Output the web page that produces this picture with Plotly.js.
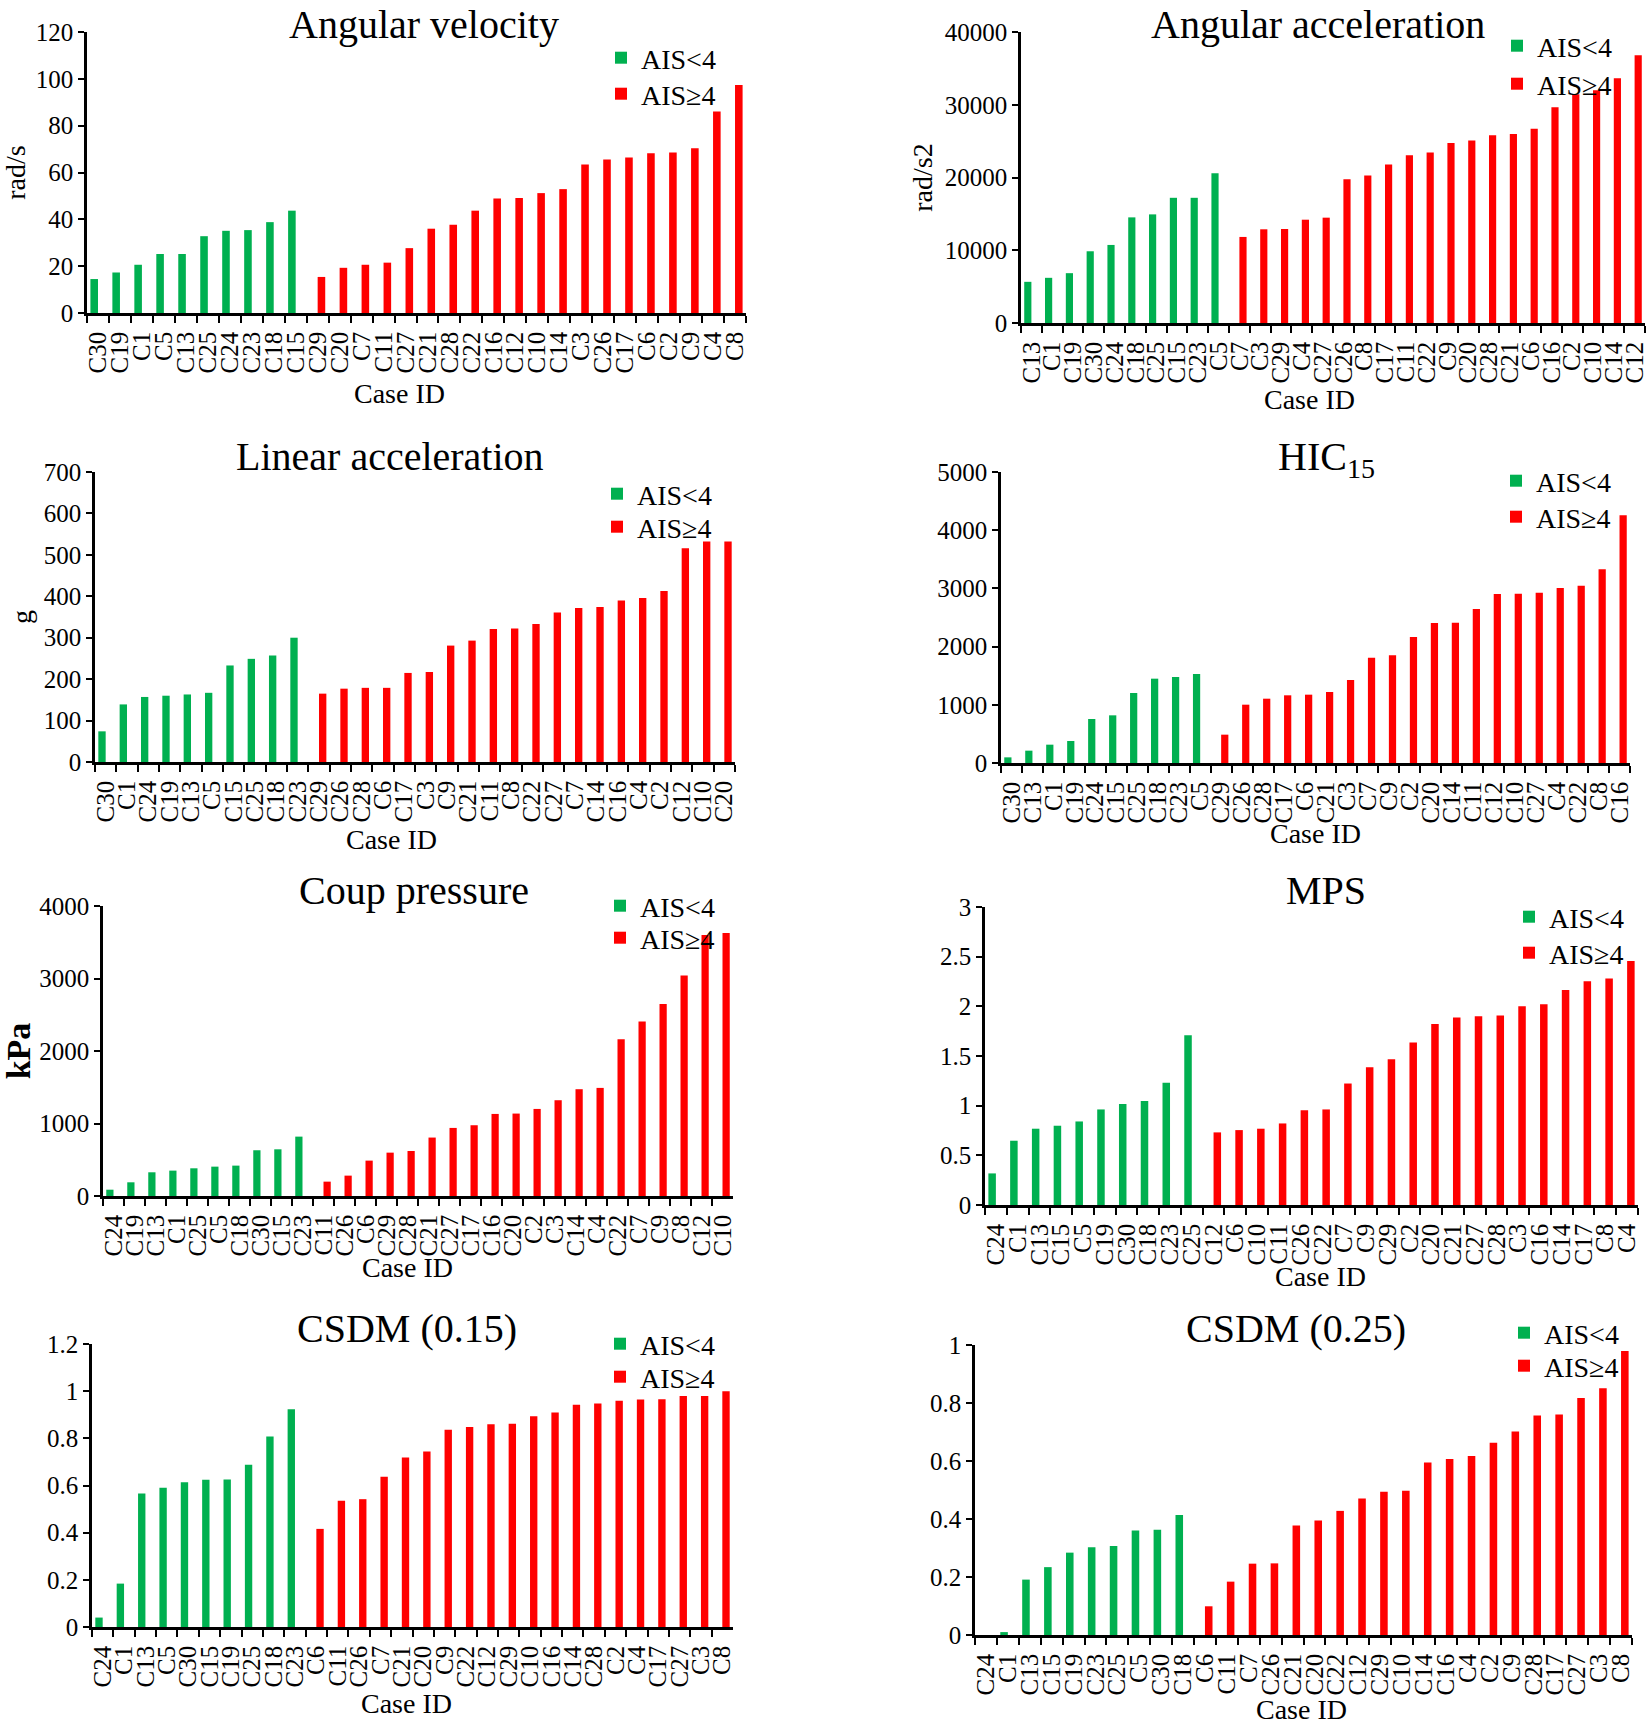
<!DOCTYPE html>
<html>
<head>
<meta charset="utf-8">
<script src="https://cdn.plot.ly/plotly-3.0.1.min.js"></script>
<style>
html,body{margin:0;padding:0;background:#fff;}
#chart{width:1650px;height:1729px;}
</style>
</head>
<body>
<div id="chart"></div>
<script>
// ---------- DATA ----------
// Angular velocity (rad/s)
const avLowIds  = ['C30','C19','C1','C5','C13','C25','C24','C23','C18','C15'];
const avLowVals = [14.5,17.3,20.6,25.2,25.2,32.8,35.1,35.4,38.8,43.7];
const avHighIds  = ['C29','C20','C7','C11','C27','C21','C28','C22','C16','C12','C10','C14','C3','C26','C17','C6','C2','C9','C4','C8'];
const avHighVals = [15.4,19.3,20.6,21.5,27.7,36.0,37.7,43.7,48.9,49.1,51.2,52.9,63.4,65.5,66.4,68.2,68.5,70.4,86.0,97.4];

// Angular acceleration (rad/s2)
const aaLowIds  = ['C13','C1','C19','C30','C24','C18','C25','C15','C23','C5'];
const aaLowVals = [5660,6210,6850,9860,10730,14520,14930,17210,17210,20590];
const aaHighIds  = ['C7','C3','C29','C4','C27','C26','C8','C17','C11','C22','C9','C20','C28','C21','C6','C16','C2','C10','C14','C12'];
const aaHighVals = [11830,12880,12920,14200,14480,19770,20270,21780,23060,23430,24750,25070,25800,25980,26710,29640,31460,32010,33650,36800];

// Linear acceleration (g)
const laLowIds  = ['C30','C1','C24','C19','C13','C5','C15','C25','C18','C23'];
const laLowVals = [74,139,157,160,163,167,233,249,257,300];
const laHighIds  = ['C29','C26','C28','C6','C17','C3','C9','C21','C11','C8','C22','C27','C7','C14','C16','C4','C2','C12','C10','C20'];
const laHighVals = [165,177,179,179,215,217,281,293,321,322,333,361,372,374,390,396,413,516,532,532];

// HIC15
const hicLowIds  = ['C30','C13','C1','C19','C24','C15','C25','C18','C23','C5'];
const hicLowVals = [97,212,315,378,756,819,1203,1449,1478,1529];
const hicHighIds  = ['C29','C26','C28','C17','C6','C21','C3','C7','C9','C2','C20','C14','C11','C12','C10','C27','C4','C22','C8','C16'];
const hicHighVals = [487,1002,1105,1163,1174,1220,1426,1810,1850,2165,2405,2411,2646,2904,2910,2927,3007,3047,3328,4255];

// Coup pressure (kPa)
const cpLowIds  = ['C24','C19','C13','C1','C25','C5','C18','C30','C15','C23'];
const cpLowVals = [87,189,327,350,382,405,419,631,644,819];
const cpHighIds  = ['C11','C26','C6','C29','C28','C21','C27','C17','C16','C20','C2','C3','C14','C4','C22','C7','C9','C8','C12','C10'];
const cpHighVals = [198,281,488,598,621,806,939,976,1132,1137,1201,1321,1473,1491,2163,2407,2647,3043,3600,3627];

// MPS
const mpsLowIds  = ['C24','C1','C13','C15','C5','C19','C30','C18','C23','C25'];
const mpsLowVals = [0.318,0.647,0.768,0.798,0.841,0.962,1.016,1.046,1.230,1.710];
const mpsHighIds  = ['C12','C6','C10','C11','C26','C22','C7','C9','C29','C2','C20','C21','C27','C28','C3','C16','C14','C17','C8','C4'];
const mpsHighVals = [0.731,0.754,0.768,0.821,0.955,0.962,1.223,1.388,1.468,1.636,1.823,1.887,1.901,1.907,2.001,2.021,2.165,2.253,2.279,2.457];

// CSDM (0.15)
const c15LowIds  = ['C24','C1','C13','C5','C30','C15','C19','C25','C18','C23'];
const c15LowVals = [0.040,0.184,0.566,0.590,0.614,0.624,0.625,0.688,0.808,0.923];
const c15HighIds  = ['C6','C11','C26','C7','C21','C20','C9','C22','C12','C29','C10','C16','C14','C28','C2','C4','C17','C27','C3','C8'];
const c15HighVals = [0.416,0.535,0.542,0.637,0.719,0.744,0.836,0.848,0.860,0.862,0.894,0.910,0.942,0.948,0.959,0.965,0.966,0.979,0.980,1.000];

// CSDM (0.25)
const c25LowIds  = ['C24','C1','C13','C15','C19','C23','C25','C5','C30','C18'];
const c25LowVals = [0,0.010,0.191,0.234,0.284,0.303,0.307,0.360,0.363,0.414];
const c25HighIds  = ['C6','C11','C7','C26','C21','C20','C22','C12','C29','C10','C14','C16','C4','C2','C9','C28','C17','C27','C3','C8'];
const c25HighVals = [0.099,0.184,0.246,0.247,0.378,0.395,0.428,0.471,0.494,0.497,0.595,0.607,0.617,0.663,0.702,0.757,0.760,0.817,0.851,0.979];

const lowName = 'AIS&lt;4';
const highName = 'AIS≥4';
const xTitle = 'Case ID';

// ---------- LAYOUT ----------
const W = 1650, H = 1729;
const FONT = 'Liberation Serif, Times New Roman, serif';
const GREEN = '#00B050', RED = '#FF0000';
const BARW = 0.345;   // bar width in category units

// rect: [left, right, top(y max), bottom(y=0)] px; tpos: title centre x / top y;
// xt: "Case ID" centre; leg: [symbol x, green y, red y]
const panels = [
  {lo:[avLowIds,avLowVals], hi:[avHighIds,avHighVals], title:'Angular velocity', ytitle:'rad/s', max:120, dtick:20,
   rect:[87,746,32,313], tpos:[424,0], xt:[399,394], leg:[619,58,94]},
  {lo:[aaLowIds,aaLowVals], hi:[aaHighIds,aaHighVals], title:'Angular acceleration', ytitle:'rad/s2', max:40000, dtick:10000,
   rect:[1021,1645,32,323], tpos:[1318,0], xt:[1309,399], leg:[1515,46,84]},
  {lo:[laLowIds,laLowVals], hi:[laHighIds,laHighVals], title:'Linear acceleration', ytitle:'g', max:700, dtick:100,
   rect:[95,735,472,762], tpos:[390,432], xt:[391,839], leg:[615,494,527]},
  {lo:[hicLowIds,hicLowVals], hi:[hicHighIds,hicHighVals], title:'HIC<sub>15</sub>', ytitle:'', max:5000, dtick:1000,
   rect:[1001,1630,472,763], tpos:[1326,432], xt:[1315,833], leg:[1514,481,517]},
  {lo:[cpLowIds,cpLowVals], hi:[cpHighIds,cpHighVals], title:'Coup pressure', ytitle:'<b>kPa</b>', max:4000, dtick:1000,
   rect:[103,733,906,1196], tpos:[414,866], xt:[407,1267], leg:[618,906,938]},
  {lo:[mpsLowIds,mpsLowVals], hi:[mpsHighIds,mpsHighVals], title:'MPS', ytitle:'', max:3, dtick:0.5,
   rect:[985,1638,907,1205], tpos:[1326,866], xt:[1320,1276], leg:[1527,917,953]},
  {lo:[c15LowIds,c15LowVals], hi:[c15HighIds,c15HighVals], title:'CSDM (0.15)', ytitle:'', max:1.2, dtick:0.2,
   rect:[92,733,1344,1627], tpos:[407,1304], xt:[406,1703], leg:[618,1344,1377]},
  {lo:[c25LowIds,c25LowVals], hi:[c25HighIds,c25HighVals], title:'CSDM (0.25)', ytitle:'', max:1, dtick:0.2,
   rect:[975,1632,1345,1635], tpos:[1296,1304], xt:[1301,1709], leg:[1522,1333,1366]}
];

const data = [];
const layout = {
  width: W, height: H,
  margin: {l:0, r:0, t:0, b:0},
  paper_bgcolor: '#fff', plot_bgcolor: '#fff',
  font: {family: FONT, color: '#000', size: 26},
  barmode: 'overlay',
  annotations: [],
  showlegend: true
};

function legendBox(sx, sy) {
  return {
    x:(sx-18)/W, y:1-(sy-25)/H, xanchor:'left', yanchor:'top',
    bgcolor:'rgba(0,0,0,0)', borderwidth:0, font:{size:28, family:FONT, color:'#000'},
    itemwidth:30
  };
}

panels.forEach((p, i) => {
  const n = i === 0 ? '' : String(i + 1);
  const legLo = 'legend' + (i === 0 ? '' : String(2*i + 1));
  const legHi = 'legend' + String(2*i + 2);
  const [x0, x1, yt, yb] = p.rect;
  data.push({
    type:'bar', x:p.lo[0], y:p.lo[1], name:lowName, marker:{color:GREEN},
    width:BARW, offset:-BARW,
    xaxis:'x'+n, yaxis:'y'+n, legend:legLo, hoverinfo:'x+y'
  });
  data.push({
    type:'bar', x:p.hi[0], y:p.hi[1], name:highName, marker:{color:RED},
    width:BARW, offset:0,
    xaxis:'x'+n, yaxis:'y'+n, legend:legHi, hoverinfo:'x+y'
  });
  layout['xaxis'+n] = {
    domain:[x0/W, x1/W], anchor:'y'+n, type:'category',
    categoryorder:'array', categoryarray:p.lo[0].concat(p.hi[0]),
    range:[-0.5, 29.5], tickmode:'linear', tick0:0, dtick:1,
    tickson:'boundaries', ticks:'outside', ticklen:7, tickwidth:2, tickcolor:'#000',
    showline:true, linecolor:'#000', linewidth:2.5, showgrid:false, zeroline:false,
    tickangle:-90, ticklabelstandoff:6, tickfont:{size:25, family:FONT, color:'#000'}
  };
  const ya = {
    domain:[1 - yb/H, 1 - yt/H], anchor:'x'+n,
    range:[0, p.max], tickmode:'linear', tick0:0, dtick:p.dtick,
    ticks:'outside', ticklen:6, tickwidth:2, tickcolor:'#000',
    showline:true, linecolor:'#000', linewidth:2.5, showgrid:false, zeroline:false,
    tickfont:{size:25, family:FONT, color:'#000'}
  };
  if (p.max >= 1000) ya.tickformat = 'd';
  if (p.ytitle) {
    ya.title = {text:p.ytitle, font:{size:p.ytitle.indexOf('kPa')>=0 ? 34 : 28, family:FONT, color:'#000'}, standoff:4};
  }
  layout['yaxis'+n] = ya;
  layout[legLo] = legendBox(p.leg[0], p.leg[1]);
  layout[legHi] = legendBox(p.leg[0], p.leg[2]);
  layout.annotations.push({
    xref:'paper', yref:'paper', x:p.tpos[0]/W, y:1-p.tpos[1]/H,
    xanchor:'center', yanchor:'top', showarrow:false,
    text:p.title, font:{size:40, family:FONT, color:'#000'}
  });
  layout.annotations.push({
    xref:'paper', yref:'paper', x:p.xt[0]/W, y:1-p.xt[1]/H,
    xanchor:'center', yanchor:'middle', showarrow:false,
    text:xTitle, font:{size:28, family:FONT, color:'#000'}
  });
});

Plotly.newPlot('chart', data, layout, {displayModeBar:false, responsive:false});
</script>
</body>
</html>
